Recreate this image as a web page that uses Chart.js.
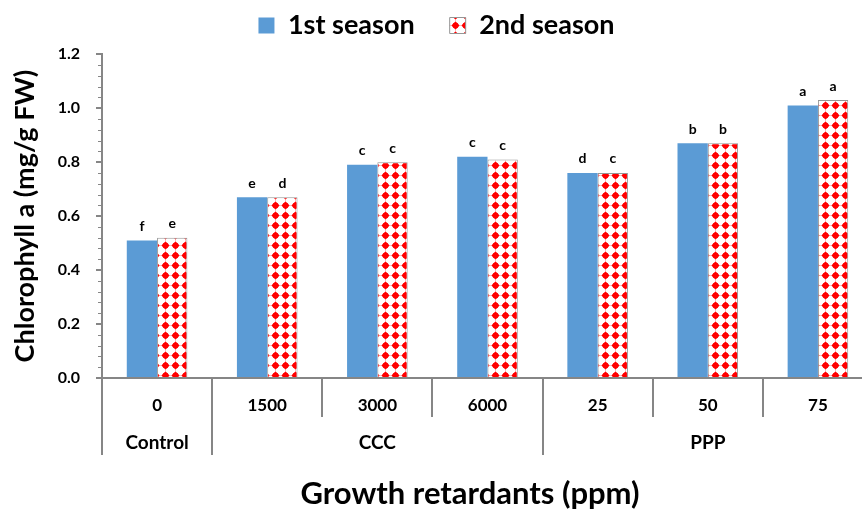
<!DOCTYPE html>
<html>
<head>
<meta charset="utf-8">
<script src="https://cdn.jsdelivr.net/npm/chart.js@4.4.1/dist/chart.umd.min.js"></script>
<style>
html, body { margin: 0; padding: 0; background: #fff; overflow: hidden; }
#wrap { width: 874px; height: 511px; position: relative; }
</style>
</head>
<body>
<div id="wrap"><canvas id="chart"></canvas></div>
<script>
// Chlorophyll a - growth retardants

const doses = ['0', '1500', '3000', '6000', '25', '50', '75'];
const groupNames = ['Control', 'CCC', 'PPP'];
const groupStart = [0, 1, 4];
const groupEnd = [0, 3, 6];

const season1 = [0.51, 0.67, 0.79, 0.82, 0.76, 0.87, 1.01];
const season2 = [0.52, 0.67, 0.80, 0.81, 0.76, 0.87, 1.03];
const letters1 = ['f', 'e', 'c', 'c', 'd', 'b', 'a'];
const letters2 = ['e', 'd', 'c', 'c', 'c', 'b', 'a'];

const xTitle = 'Growth retardants (ppm)';

const FONT = 'Lato';
const AXIS = '#868686';

// red dotted fill like the Excel pattern
function makePattern() {
    const c = document.createElement('canvas');
    c.width = 10;
    c.height = 10;
    const g = c.getContext('2d');
    g.fillStyle = '#fff';
    g.fillRect(0, 0, 10, 10);
    g.strokeStyle = 'rgba(255, 0, 0, 0.25)';
    g.lineWidth = 1;
    g.beginPath();
    g.moveTo(0, 5.5); g.lineTo(10, 5.5);
    g.moveTo(5.5, 0); g.lineTo(5.5, 10);
    g.stroke();
    g.fillStyle = '#ff0000';
    g.beginPath();
    g.arc(5.5, 5.5, 3, 0, Math.PI * 2);
    g.fill();
    g.beginPath();
    g.moveTo(5.5, 1.5); g.lineTo(9.5, 5.5); g.lineTo(5.5, 9.5); g.lineTo(1.5, 5.5);
    g.closePath();
    g.fill();
    return g.createPattern(c, 'repeat');
}

const ctx = document.getElementById('chart').getContext('2d');
const redPattern = makePattern();

// minor ticks on the y axis
const minorTicks = {
    id: 'minorTicks',
    afterDraw(chart) {
        const y = chart.scales.y;
        const c = chart.ctx;
        c.save();
        c.strokeStyle = AXIS;
        c.lineWidth = 1;
        for (let i = 0; i <= 30; i++) {
            if (i % 5 === 0) continue;
            const py = Math.round(y.getPixelForValue(i * 0.04)) + 0.5;
            c.beginPath();
            c.moveTo(y.right - 4, py);
            c.lineTo(y.right, py);
            c.stroke();
        }
        c.restore();
    }
};

// category separators, group labels and axis title below the x axis
const groupAxis = {
    id: 'groupAxis',
    afterDraw(chart) {
        const x = chart.scales.x;
        const c = chart.ctx;
        const bottom = chart.chartArea.bottom;
        const half = (x.getPixelForTick(1) - x.getPixelForTick(0)) / 2;
        const bounds = [];
        for (let i = 0; i < doses.length; i++) bounds.push(x.getPixelForTick(i) - half);
        bounds.push(x.getPixelForTick(doses.length - 1) + half);

        c.save();
        c.strokeStyle = AXIS;
        c.lineWidth = 2;
        bounds.forEach((bx, i) => {
            const isGroup = groupStart.includes(i) || i === doses.length;
            c.beginPath();
            c.moveTo(Math.round(bx), bottom);
            c.lineTo(Math.round(bx), isGroup ? 455 : 417);
            c.stroke();
        });

        c.fillStyle = '#000';
        c.font = `bold 19px ${FONT}`;
        c.textAlign = 'center';
        c.textBaseline = 'middle';
        groupNames.forEach((name, g) => {
            const cx = (bounds[groupStart[g]] + bounds[groupEnd[g] + 1]) / 2;
            c.fillText(name, cx, 443);
        });

        c.font = `bold 31px ${FONT}`;
        c.fillText(xTitle, 470, 494);
        c.restore();
    }
};

// significance letters above bars
const barLetters = {
    id: 'barLetters',
    afterDatasetsDraw(chart) {
        const c = chart.ctx;
        const sets = [letters1, letters2];
        c.save();
        c.fillStyle = '#000';
        c.font = `bold 14px ${FONT}`;
        c.textAlign = 'center';
        c.textBaseline = 'bottom';
        sets.forEach((letters, d) => {
            chart.getDatasetMeta(d).data.forEach((bar, i) => {
                c.fillText(letters[i], bar.x, bar.y - 7);
            });
        });
        c.restore();
    }
};

new Chart(ctx, {
    type: 'bar',
    data: {
        labels: doses,
        datasets: [
            {
                label: '1st season',
                data: season1,
                backgroundColor: '#5b9bd5',
                borderWidth: 0,
                barPercentage: 1,
                categoryPercentage: 0.55
            },
            {
                label: '2nd season',
                data: season2,
                backgroundColor: redPattern,
                borderColor: '#959595',
                borderWidth: 1,
                barPercentage: 1,
                categoryPercentage: 0.55
            }
        ]
    },
    options: {
        responsive: true,
        maintainAspectRatio: false,
        animation: false,
        layout: {
            padding: { top: -23, right: 1, bottom: 0, left: 0 }
        },
        plugins: {
            legend: {
                display: true,
                position: 'top',
                labels: {
                    color: '#000',
                    font: { family: FONT, size: 27, weight: 'bold' },
                    boxWidth: 16,
                    boxHeight: 16,
                    padding: 35
                }
            },
            // empty spacer between legend and plot
            title: {
                display: true,
                text: ' ',
                position: 'top',
                weight: 500,
                font: { size: 1 },
                padding: { top: 0, bottom: 4 }
            },
            tooltip: { enabled: false }
        },
        scales: {
            x: {
                offset: true,
                grid: { display: false },
                border: { display: true, color: AXIS, width: 2 },
                ticks: {
                    color: '#000',
                    font: { family: FONT, size: 17, weight: 'bold' },
                    padding: 9
                },
                afterFit: s => { s.height = 133; }
            },
            y: {
                min: 0,
                max: 1.2,
                grid: {
                    display: true,
                    drawOnChartArea: false,
                    color: AXIS,
                    lineWidth: 2,
                    tickLength: 6
                },
                border: { display: true, color: AXIS, width: 2 },
                ticks: {
                    stepSize: 0.2,
                    color: '#000',
                    font: { family: FONT, size: 16, weight: 'bold' },
                    padding: 16,
                    callback: v => Number(v).toFixed(1)
                },
                title: {
                    display: true,
                    text: 'Chlorophyll a (mg/g FW)',
                    color: '#000',
                    font: { family: FONT, size: 27, weight: 'bold' },
                    padding: { top: 9, bottom: 0 }
                },
                afterFit: s => { s.width = 102; }
            }
        }
    },
    plugins: [minorTicks, groupAxis, barLetters]
});
</script>
</body>
</html>
